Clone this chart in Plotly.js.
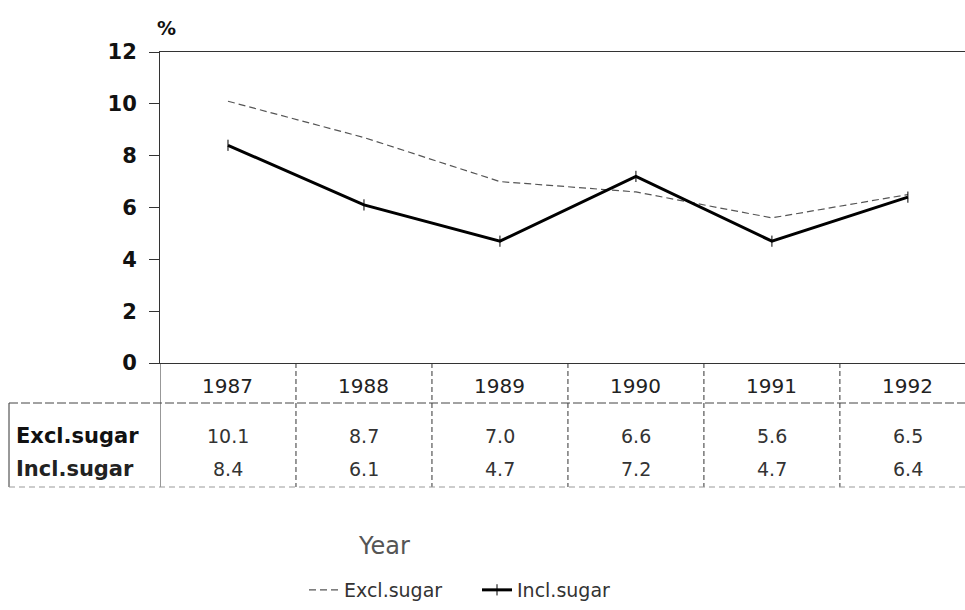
<!DOCTYPE html>
<html>
<head>
<meta charset="utf-8">
<script src="https://cdn.plot.ly/plotly-3.0.1.min.js"></script>
<style>html,body{margin:0;padding:0;background:#fff;}#chart{width:965px;height:610px;}</style>
</head>
<body>
<div id="chart"></div>
<script>
const years = ['1987', '1988', '1989', '1990', '1991', '1992'];
const exclSugar = [10.1, 8.7, 7.0, 6.6, 5.6, 6.5];
const inclSugar = [8.4, 6.1, 4.7, 7.2, 4.7, 6.4];
const seriesNames = ['Excl.sugar', 'Incl.sugar'];
const yTicks = [0, 2, 4, 6, 8, 10, 12];

const FONT = 'DejaVu Sans, Verdana, sans-serif';
const idx = years.map((_, i) => i);

// plot area geometry in pixels (layout only)
const H = 610, T = 52, B = 247, PH = H - T - B; // 311
function py(pix) { return (H - B - pix) / PH; } // pixel y -> paper y
function px(pix) { return (pix - 160) / 805; } // pixel x -> paper x

const traces = [
  {
    x: idx, y: exclSugar, name: seriesNames[0], type: 'scatter', mode: 'lines',
    line: {color: '#555', width: 1.2, dash: '7px,4px'}
  },
  {
    x: idx, y: inclSugar, name: seriesNames[1], type: 'scatter', mode: 'lines+markers',
    line: {color: '#000', width: 3},
    marker: {symbol: 'line-ns', size: 8, line: {color: '#000', width: 1}, color: '#000'}
  }
];

const shapes = [];
const annotations = [];
const tableTop = 363, rowLine = 403, tableBottom = 487;
// vertical dividers at category boundaries
for (let k = 0; k <= years.length; k++) {
  shapes.push({type: 'line', xref: 'x', yref: 'paper', x0: k - 0.5, x1: k - 0.5,
    y0: py(tableTop), y1: py(tableBottom), line: {color: '#333', width: 1, dash: k === 0 ? 'solid' : '5px,3px'}});
}
// table left border and horizontal lines
shapes.push({type: 'line', xref: 'paper', yref: 'paper', x0: px(9), x1: px(9),
  y0: py(rowLine), y1: py(tableBottom), line: {color: '#333', width: 1}});
shapes.push({type: 'line', xref: 'paper', yref: 'paper', x0: px(9), x1: 1,
  y0: py(rowLine), y1: py(rowLine), line: {color: '#444', width: 1, dash: '9px,3px'}});
shapes.push({type: 'line', xref: 'paper', yref: 'paper', x0: px(9), x1: 1,
  y0: py(tableBottom), y1: py(tableBottom), line: {color: '#999', width: 1, dash: '6px,4px'}});

years.forEach((yr, i) => {
  annotations.push({xref: 'x', yref: 'paper', x: i, y: py(386), text: yr, showarrow: false,
    font: {family: FONT, size: 20, color: '#222'}, xanchor: 'center', yanchor: 'middle'});
  annotations.push({xref: 'x', yref: 'paper', x: i, y: py(436), text: exclSugar[i].toFixed(1), showarrow: false,
    font: {family: FONT, size: 19, color: '#333'}, xanchor: 'center', yanchor: 'middle'});
  annotations.push({xref: 'x', yref: 'paper', x: i, y: py(469), text: inclSugar[i].toFixed(1), showarrow: false,
    font: {family: FONT, size: 19, color: '#333'}, xanchor: 'center', yanchor: 'middle'});
});
annotations.push({xref: 'paper', yref: 'paper', x: px(14), y: py(436), text: seriesNames[0],
  showarrow: false, font: {family: FONT, size: 21, color: '#111', weight: 'bold'}, xanchor: 'left', yanchor: 'middle'});
annotations.push({xref: 'paper', yref: 'paper', x: px(14), y: py(469), text: seriesNames[1],
  showarrow: false, font: {family: FONT, size: 21, color: '#222', weight: 'bold'}, xanchor: 'left', yanchor: 'middle'});
annotations.push({xref: 'paper', yref: 'paper', x: px(384), y: py(546), text: 'Year',
  showarrow: false, font: {family: FONT, size: 24, color: '#555'}, xanchor: 'center', yanchor: 'middle'});
annotations.push({xref: 'paper', yref: 'paper', x: px(166), y: py(28), text: '%',
  showarrow: false, font: {family: FONT, size: 19, color: '#111', weight: 'bold'}, xanchor: 'center', yanchor: 'middle'});

const layout = {
  width: 965, height: 610,
  margin: {l: 160, r: 0, t: T, b: B, pad: 0},
  paper_bgcolor: '#fff', plot_bgcolor: '#fff',
  showlegend: true,
  legend: {orientation: 'h', x: px(304), xanchor: 'left', y: py(590), yanchor: 'middle',
    font: {family: FONT, size: 19, color: '#333'}, entrywidth: 128, entrywidthmode: 'pixels'},
  xaxis: {
    range: [-0.5, 5.42], showgrid: false, zeroline: false, showticklabels: false,
    showline: true, linecolor: '#333', linewidth: 1, mirror: true, ticks: '', fixedrange: true
  },
  yaxis: {
    range: [0, 12], tickvals: yTicks, ticktext: yTicks.map(String), showgrid: false, zeroline: false,
    showline: true, linecolor: '#333', linewidth: 1, ticks: 'outside', ticklen: 10, tickcolor: '#333',
    ticklabelstandoff: 8,
    tickfont: {family: FONT, size: 21, color: '#111', weight: 'bold'}, fixedrange: true
  },
  shapes: shapes,
  annotations: annotations
};

Plotly.newPlot('chart', traces, layout, {displayModeBar: false, staticPlot: true});
</script>
</body>
</html>
